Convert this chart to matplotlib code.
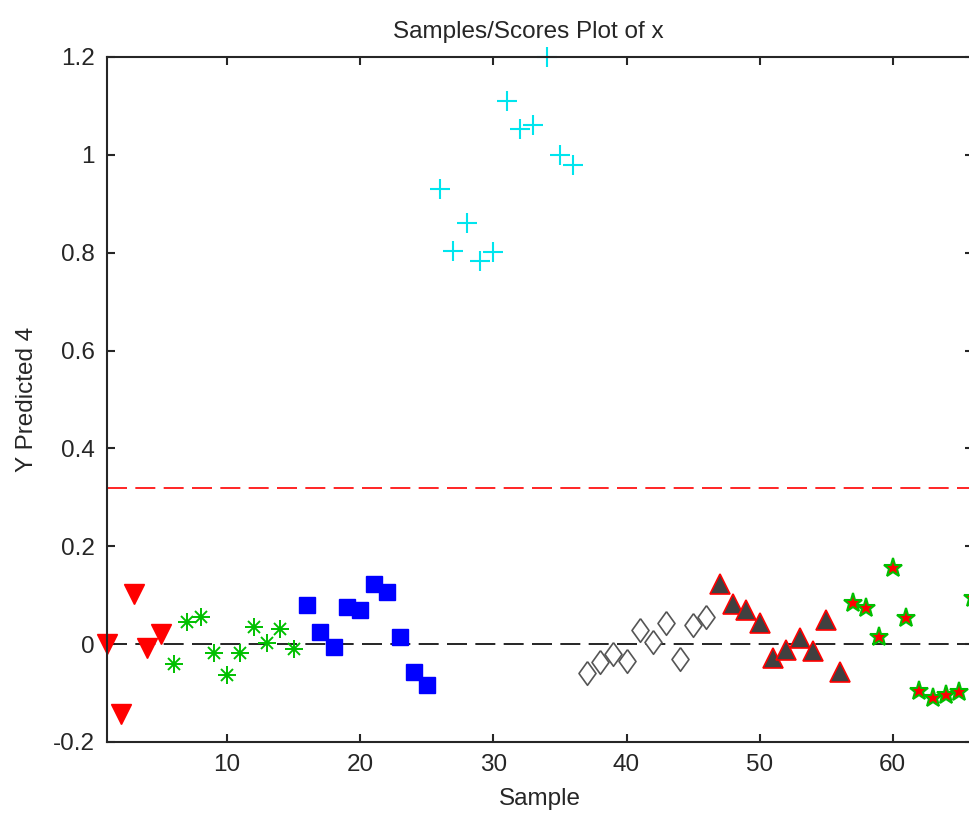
import numpy as np
import matplotlib
matplotlib.use("Agg")
import matplotlib.pyplot as plt

plt.rcParams['font.family'] = ['Liberation Sans', 'DejaVu Sans']

# sample scores, one group per class
y_class1 = [0.0, -0.143, 0.103, -0.008, 0.021]
y_class2 = [-0.041, 0.046, 0.055, -0.018, -0.063, -0.018, 0.034, 0.002, 0.030, -0.010]
y_class3 = [0.080, 0.024, -0.006, 0.075, 0.070, 0.123, 0.107, 0.014, -0.056, -0.084]
y_class4 = [0.930, 0.804, 0.861, 0.782, 0.801, 1.110, 1.052, 1.061, 1.200, 1.000, 0.979]
y_class5 = [-0.060, -0.036, -0.020, -0.034, 0.028, 0.005, 0.044, -0.031, 0.039, 0.055]
y_class6 = [0.122, 0.082, 0.070, 0.043, -0.029, -0.012, 0.012, -0.015, 0.049, -0.056]
y_class7 = [0.083, 0.073, 0.015, 0.155, 0.053, -0.095, -0.111, -0.104, -0.097, 0.094]
threshold = 0.32

x_ticks = [10, 20, 30, 40, 50, 60]
y_ticks = [-0.2, 0, 0.2, 0.4, 0.6, 0.8, 1.0, 1.2]

fig = plt.figure(figsize=(9.69, 8.14), dpi=100)
ax = fig.add_axes([0.1108, 0.0885, 0.893, 0.8415])

ax.axhline(0, color='black', lw=1.2, dashes=(12, 5), zorder=1)
ax.axhline(threshold, color='red', lw=1.2, dashes=(12, 5), zorder=1)

start = 1
groups = [y_class1, y_class2, y_class3, y_class4, y_class5, y_class6, y_class7]
xs = []
for g in groups:
    xs.append(np.arange(start, start + len(g)))
    start += len(g)

green = '#00c000'
txt = '#262626'
diamond = [(0, 1), (0.72, 0), (0, -1), (-0.72, 0), (0, 1)]

ax.plot(xs[0], y_class1, 'v', ms=14, mfc='red', mec='red', ls='none', clip_on=False)
# matlab style asterisk: plus with shorter diagonals
ax.plot(xs[1], y_class2, '+', ms=13, mec=green, mew=1.4, ls='none', clip_on=False)
ax.plot(xs[1], y_class2, 'x', ms=8, mec=green, mew=1.4, ls='none', clip_on=False)
ax.plot(xs[2], y_class3, 's', ms=12, mfc='blue', mec='blue', ls='none', clip_on=False)
ax.plot(xs[3], y_class4, '+', ms=14, mec='#00e5ee', mew=1.5, ls='none', clip_on=False)
ax.plot(xs[4], y_class5, marker=diamond, ms=17, mfc='white', mec='#555555', mew=1.2, ls='none', clip_on=False)
ax.plot(xs[5], y_class6, '^', ms=14, mfc='#404040', mec='red', mew=1.2, ls='none', clip_on=False)
ax.plot(xs[6], y_class7, '*', ms=14, mfc='red', mec=green, mew=1.5, ls='none', clip_on=False)

ax.set_xlim(1, 66)
ax.set_ylim(-0.2, 1.2)
ax.set_xticks(x_ticks)
ax.set_yticks(y_ticks)
ax.set_yticklabels(['%g' % v for v in y_ticks])
ax.tick_params(direction='in', length=6, width=1.5, labelsize=17.5, labelcolor=txt,
               top=True, right=True, pad=9)
for s in ax.spines.values():
    s.set_linewidth(1.5)
    s.set_color(txt)
ax.tick_params(colors=txt)

ax.set_title('Samples/Scores Plot of x', fontsize=17.5, color=txt, x=0.486, pad=14)
ax.set_xlabel('Sample', fontsize=17.5, color=txt, labelpad=8)
ax.set_ylabel('Y Predicted 4', fontsize=17.5, color=txt, labelpad=11)

fig.savefig('out.png', dpi=100)
